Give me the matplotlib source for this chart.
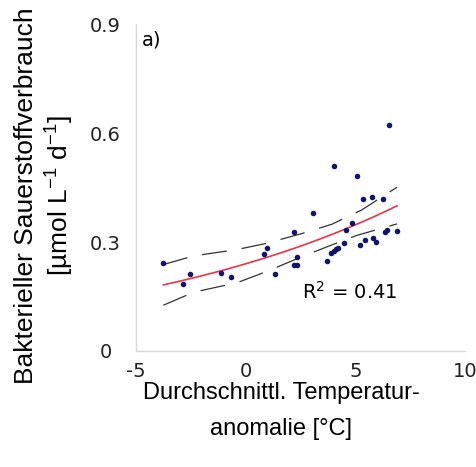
import numpy as np
import matplotlib
matplotlib.use("Agg")
import matplotlib.pyplot as plt

plt.rcParams["axes.unicode_minus"] = False
plt.rcParams["mathtext.fontset"] = "custom"
plt.rcParams["mathtext.rm"] = "Liberation Sans"
plt.rcParams["mathtext.it"] = "Liberation Sans:italic"
plt.rcParams["mathtext.default"] = "rm"

# Data
temp_anomaly = [-3.75, -2.84, -2.53, -1.14, -0.67, 0.85, 0.97, 1.36, 2.20, 2.32,
                2.21, 2.32, 3.09, 3.73, 3.89, 4.03, 4.13, 4.21, 4.03, 4.50,
                4.56, 4.85, 5.07, 5.22, 5.36, 5.45, 5.77, 5.79, 5.92, 6.26,
                6.33, 6.45, 6.53, 6.90]
oxygen_use = [0.241, 0.184, 0.213, 0.216, 0.204, 0.266, 0.284, 0.213, 0.327, 0.259,
              0.237, 0.236, 0.380, 0.249, 0.270, 0.275, 0.281, 0.284, 0.510, 0.298,
              0.332, 0.352, 0.481, 0.292, 0.418, 0.305, 0.425, 0.310, 0.300, 0.418,
              0.328, 0.332, 0.621, 0.331]

# exponential fit y = a * exp(b * x)
fit_a = 0.240
fit_b = 0.0739
fit_range = [-3.75, 6.9]

upper_x = [-3.75, -2.36, -0.42, 0.92, 2.54, 3.93, 5.28, 6.90]
upper_y = [0.238, 0.262, 0.279, 0.296, 0.323, 0.349, 0.388, 0.451]
lower_x = [-3.75, -2.36, -0.39, 0.92, 2.30, 3.67, 5.05, 6.56, 6.90]
lower_y = [0.126, 0.162, 0.188, 0.218, 0.253, 0.286, 0.318, 0.344, 0.350]

x_ticks = [-5, 0, 5, 10]
y_ticks = [0, 0.3, 0.6, 0.9]
y_tick_labels = ["0", "0.3", "0.6", "0.9"]

fig = plt.figure(figsize=(4.77, 4.67), dpi=100)
ax = fig.add_axes([0.285, 0.2484, 0.690, 0.700])

xs = np.linspace(fit_range[0], fit_range[1], 200)
ax.plot(xs, fit_a * np.exp(fit_b * xs), color="#ee3344", lw=1.2, zorder=2)
ax.plot(upper_x, upper_y, color="#333333", lw=0.9, dashes=(20, 12), zorder=2)
ax.plot(lower_x, lower_y, color="#333333", lw=0.9, dashes=(20, 12), zorder=2)
ax.scatter(temp_anomaly, oxygen_use, s=16, color="#14146e", zorder=3, linewidths=0)

ax.set_xlim(-5, 10)
ax.set_ylim(0, 0.9)
ax.set_xticks(x_ticks)
ax.set_yticks(y_ticks)
ax.set_yticklabels(y_tick_labels)
ax.tick_params(length=0, labelsize=14, colors="#222222")
ax.tick_params(axis="x", pad=8)
ax.tick_params(axis="y", pad=22)
for lab in ax.get_xticklabels() + ax.get_yticklabels():
    lab.set_family("DejaVu Sans")
for lab in ax.get_yticklabels():
    lab.set_horizontalalignment("center")
for s in ["top", "right"]:
    ax.spines[s].set_visible(False)
for s in ["left", "bottom"]:
    ax.spines[s].set_color("#d8d8d8")
    ax.spines[s].set_linewidth(1.0)

ax.text(-4.72, 0.857, "a)", fontsize=14, family="DejaVu Sans", va="center", ha="left")
ax.text(2.55, 0.162, "R$^2$ = 0.41", fontsize=14, family="DejaVu Sans", va="center", ha="left",
        math_fontfamily="dejavusans")

cx = 0.5 * (145 + 418) / 477
fig.text(cx, 1 - 393 / 467, "Durchschnittl. Temperatur-",
         fontsize=17, family="Liberation Sans", ha="center", va="center")
fig.text(cx, 1 - 429 / 467, "anomalie [°C]",
         fontsize=17, family="Liberation Sans", ha="center", va="center")

fig.text(26 / 477, 1 - 196 / 467, "Bakterieller Sauerstoffverbrauch",
         fontsize=19, family="Liberation Sans", ha="center", va="center", rotation=90)
fig.text(60 / 477, 1 - 196 / 467, "[µmol L$^{-1}$ d$^{-1}$]",
         fontsize=19, family="Liberation Sans", ha="center", va="center", rotation=90)

fig.savefig("out.png", dpi=100)
